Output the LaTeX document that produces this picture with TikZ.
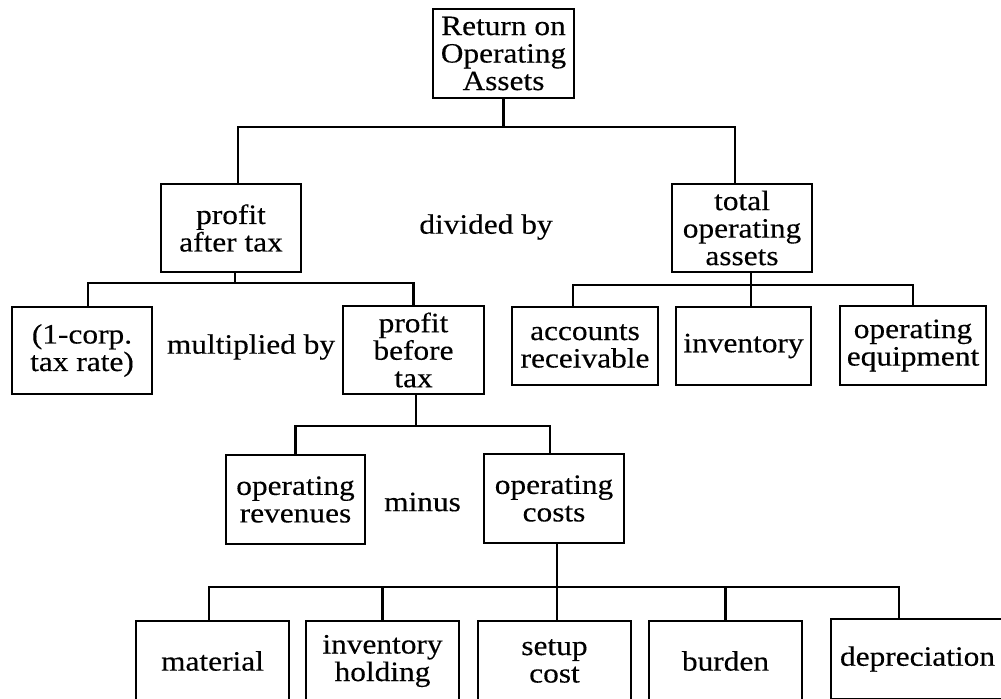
\documentclass[tikz,border=0pt]{standalone}
\usepackage{fontspec}
\setmainfont{Liberation Serif}[FakeStretch=1.12,FakeBold=0.3]
\newcommand{\diagfont}{\fontsize{14}{13.75}\selectfont}
\begin{document}
\begin{tikzpicture}[x=0.5pt,y=-0.5pt,
  box/.style={draw,line width=1.2pt,inner sep=0pt,align=center,font=\diagfont},
  lbl/.style={inner sep=0pt,font=\diagfont},
  conn/.style={line width=1.2pt}]
\useasboundingbox (0,0) rectangle (1001,698);
\clip (0,0) rectangle (1001,698);
% boxes
\node[box,minimum width=70.5pt,minimum height=44.5pt] (roa) at (503.5,53.5) {Return on\\Operating\\Assets};
\node[box,minimum width=70pt,minimum height=44pt] (pat) at (231,228) {profit\\after tax};
\node[box,minimum width=70pt,minimum height=44pt] (toa) at (742,228) {total\\operating\\assets};
\node[box,minimum width=70pt,minimum height=43.5pt] (tax) at (82,350.5) {(1-corp.\\tax rate)};
\node[box,minimum width=70.5pt,minimum height=44pt] (pbt) at (413.5,350) {profit\\before\\tax};
\node[box,minimum width=73pt,minimum height=39pt] (ar) at (585,346) {accounts\\receivable};
\node[box,minimum width=67.5pt,minimum height=39pt] (inv) at (743.5,346) {inventory};
\node[box,minimum width=73pt,minimum height=39.5pt] (oe) at (913,345.5) {operating\\equipment};
\node[box,minimum width=69.5pt,minimum height=44.5pt] (orev) at (295.5,499.5) {operating\\revenues};
\node[box,minimum width=70pt,minimum height=44.5pt] (oc) at (554,498.5) {operating\\costs};
\node[box,minimum width=76.5pt,minimum height=40pt] (mat) at (212.5,661) {material};
\node[box,minimum width=76.5pt,minimum height=40pt] (ih) at (382.5,661) {inventory\\holding};
\node[box,minimum width=76.5pt,minimum height=40pt] (sc) at (554.5,661) {setup\\cost};
\node[box,minimum width=76.5pt,minimum height=40pt] (bur) at (725.5,661) {burden};
\node[box,minimum width=86.5pt,minimum height=40pt] (dep) at (917.5,659) {depreciation};
% labels
\node[lbl] (div) at (486,227) {divided by};
\node[lbl] (mul) at (251,347) {multiplied by};
\node[lbl] (mns) at (422.5,502) {minus};
% junctions
\coordinate (j1) at (503.5,127);
\coordinate (j2) at (235,283);
\coordinate (j3) at (751,285);
\coordinate (j4) at (416,426);
\coordinate (j5) at (557,587);
% connectors
\draw[conn] (roa.south) -- (j1);
\draw[conn] ([xshift=3.5pt]pat.north) |- (j1) -| ([xshift=-3.5pt]toa.north);
\draw[conn] (pat.south -| j2) -- (j2);
\draw[conn] ([xshift=3pt]tax.north) |- (j2) -| (pbt.north);
\draw[conn] (toa.south -| j3) -- (inv.north -| j3);
\draw[conn] ([xshift=-6pt]ar.north) |- (j3) -| (oe.north);
\draw[conn] (pbt.south -| j4) -- (j4);
\draw[conn] (orev.north) |- (j4) -| ([xshift=-2pt]oc.north);
\draw[conn] (oc.south -| j5) -- (sc.north -| j5);
\draw[conn] ([xshift=-1.75pt]mat.north) |- (j5) -| ([xshift=-9.25pt]dep.north);
\draw[conn] (ih.north) -- (ih.north |- j5);
\draw[conn] (bur.north) -- (bur.north |- j5);
\end{tikzpicture}
\end{document}
